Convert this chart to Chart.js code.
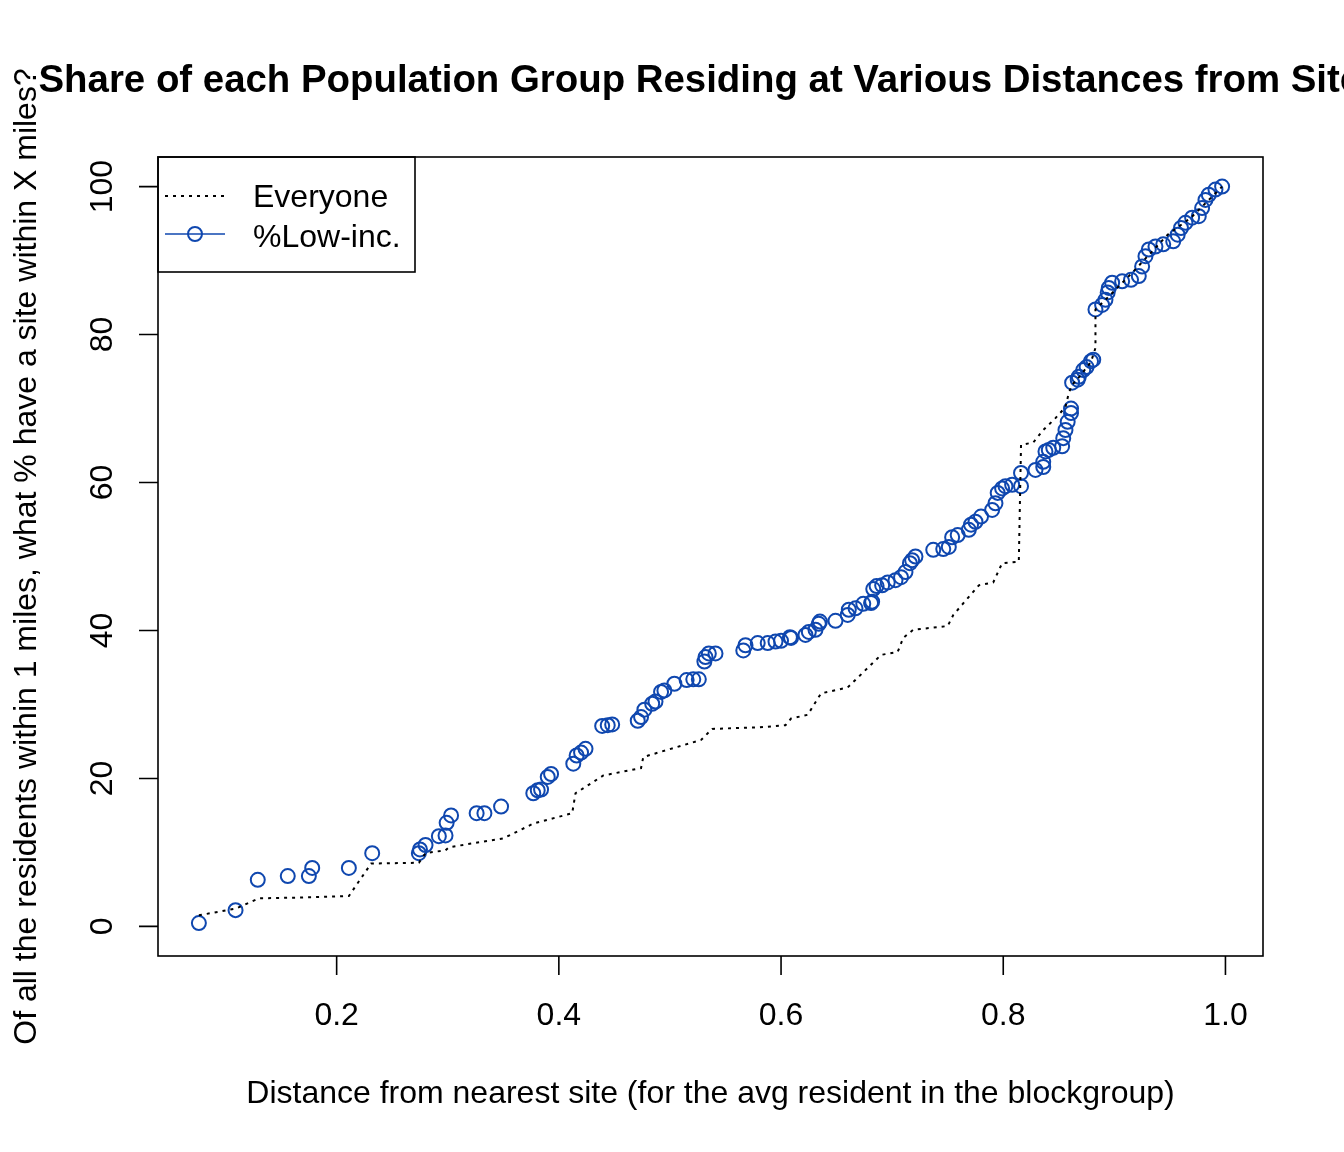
<!DOCTYPE html>
<html>
<head>
<meta charset="utf-8">
<script src="https://cdn.jsdelivr.net/npm/chart.js@4.4.0/dist/chart.umd.min.js"></script>
<style>
  html, body { margin: 0; padding: 0; background: #fff; }
  #wrap { width: 1344px; height: 1152px; }
</style>
</head>
<body>
<div id="wrap"><canvas id="chart" width="1344" height="1152"></canvas></div>
<script>
// data
const everyoneX = [0.076, 0.109, 0.130, 0.168, 0.211, 0.231, 0.274, 0.280, 0.298, 0.301,
  0.350, 0.377, 0.412, 0.415, 0.440, 0.474, 0.476, 0.528, 0.538, 0.580,
  0.604, 0.609, 0.624, 0.636, 0.660, 0.690, 0.705, 0.710, 0.719, 0.750,
  0.755, 0.778, 0.791, 0.799, 0.814, 0.816, 0.827, 0.836, 0.847, 0.856,
  0.859, 0.862, 0.868, 0.879, 0.883, 0.883, 0.892, 0.917, 0.948, 0.969, 0.997];
const everyoneY = [1.5, 2.4, 3.8, 3.9, 4.1, 8.5, 8.6, 9.9, 10.3, 10.7,
  11.9, 13.9, 15.3, 18.0, 20.4, 21.4, 22.9, 25.2, 26.7, 26.9,
  27.2, 28.1, 28.6, 31.5, 32.3, 36.7, 37.1, 39.0, 40.1, 40.6,
  42.1, 46.1, 46.5, 49.1, 49.3, 65.1, 65.4, 67.1, 68.7, 70.2,
  72.1, 73.2, 74.2, 76.3, 78.2, 83.4, 84.7, 88.5, 93.5, 95.8, 100];

const lowIncX = [0.076, 0.109, 0.129, 0.156, 0.175, 0.178, 0.211, 0.232, 0.274, 0.275,
  0.280, 0.292, 0.298, 0.299, 0.303, 0.326, 0.333, 0.348, 0.377, 0.381,
  0.384, 0.390, 0.393, 0.413, 0.416, 0.420, 0.424, 0.439, 0.444, 0.448,
  0.471, 0.474, 0.477, 0.484, 0.487, 0.492, 0.495, 0.504, 0.515, 0.521,
  0.526, 0.531, 0.532, 0.535, 0.541, 0.566, 0.568, 0.579, 0.588, 0.595,
  0.600, 0.608, 0.609, 0.622, 0.625, 0.631, 0.634, 0.635, 0.649, 0.660,
  0.661, 0.667, 0.674, 0.681, 0.682, 0.683, 0.686, 0.691, 0.696, 0.703,
  0.708, 0.712, 0.716, 0.718, 0.721, 0.737, 0.746, 0.751, 0.754, 0.759,
  0.769, 0.771, 0.775, 0.780, 0.790, 0.793, 0.795, 0.799, 0.802, 0.808,
  0.816, 0.816, 0.829, 0.836, 0.836, 0.838, 0.841, 0.845, 0.853, 0.854,
  0.856, 0.858, 0.861, 0.861, 0.862, 0.867, 0.868, 0.872, 0.875, 0.879,
  0.881, 0.883, 0.889, 0.892, 0.894, 0.895, 0.898, 0.907, 0.915, 0.922,
  0.925, 0.928, 0.931, 0.937, 0.944, 0.953, 0.957, 0.960, 0.964, 0.970,
  0.976, 0.979, 0.982, 0.985, 0.991, 0.997];
const lowIncY = [0.45, 2.2, 6.3, 6.8, 6.8, 7.9, 7.9, 9.9, 9.9, 10.4,
  11.0, 12.2, 12.3, 14.0, 15.0, 15.3, 15.3, 16.2, 18.0, 18.4,
  18.5, 20.2, 20.6, 22.0, 23.1, 23.5, 24.0, 27.1, 27.2, 27.3,
  27.8, 28.3, 29.3, 30.1, 30.4, 31.7, 31.9, 32.8, 33.3, 33.4,
  33.4, 35.8, 36.4, 36.9, 36.9, 37.3, 38.0, 38.3, 38.3, 38.5,
  38.6, 39.1, 39.0, 39.4, 39.8, 40.1, 40.9, 41.2, 41.3, 42.1,
  42.8, 43.0, 43.6, 43.7, 43.9, 45.6, 46.0, 46.1, 46.5, 46.8,
  47.2, 47.9, 49.1, 49.5, 50.0, 50.9, 51.0, 51.3, 52.6, 52.9,
  53.6, 54.3, 54.7, 55.4, 56.3, 57.2, 58.6, 59.2, 59.5, 59.7,
  59.5, 61.3, 61.7, 62.1, 62.8, 64.2, 64.4, 64.7, 64.9, 66.0,
  67.1, 68.2, 69.4, 70.0, 73.5, 73.9, 74.3, 75.2, 75.6, 76.4,
  76.6, 83.4, 84.0, 84.7, 85.7, 86.3, 87.0, 87.2, 87.4, 87.9,
  89.2, 90.6, 91.5, 91.9, 92.2, 92.6, 93.5, 94.4, 95.1, 95.8,
  96.0, 97.1, 98.2, 98.9, 99.6, 100.0];

const xTicks = [0.2, 0.4, 0.6, 0.8, 1.0];
const yTicks = [0, 20, 40, 60, 80, 100];

const titleText = 'Share of each Population Group Residing at Various Distances from Sites';
const xLabel = 'Distance from nearest site (for the avg resident in the blockgroup)';
const yLabel = 'Of all the residents within 1 miles, what % have a site within X miles?';

const FONT = '"Liberation Sans", Arial, Helvetica, sans-serif';
const BLUE = '#0F47AF';
const TICK_LEN = 19;

// R-style box, ticks, labels, title and legend
const rFrame = {
  id: 'rFrame',
  afterDraw(chart) {
    const ctx = chart.ctx;
    const a = chart.chartArea;
    const xs = chart.scales.x;
    const ys = chart.scales.y;
    ctx.save();
    ctx.strokeStyle = '#000';
    ctx.fillStyle = '#000';
    ctx.lineWidth = 1.6;
    ctx.strokeRect(a.left, a.top, a.right - a.left, a.bottom - a.top);

    ctx.beginPath();
    xs.ticks.forEach(t => {
      const px = xs.getPixelForValue(t.value);
      ctx.moveTo(px, a.bottom);
      ctx.lineTo(px, a.bottom + TICK_LEN);
    });
    ys.ticks.forEach(t => {
      const py = ys.getPixelForValue(t.value);
      ctx.moveTo(a.left, py);
      ctx.lineTo(a.left - TICK_LEN, py);
    });
    ctx.stroke();

    ctx.font = '32px ' + FONT;
    ctx.textAlign = 'center';
    ctx.textBaseline = 'alphabetic';
    xs.ticks.forEach(t => {
      ctx.fillText(t.value.toFixed(1), xs.getPixelForValue(t.value), 1025);
    });
    ys.ticks.forEach(t => {
      ctx.save();
      ctx.translate(112, ys.getPixelForValue(t.value));
      ctx.rotate(-Math.PI / 2);
      ctx.fillText(String(t.value), 0, 0);
      ctx.restore();
    });

    const cx = (a.left + a.right) / 2;
    const cy = (a.top + a.bottom) / 2;
    ctx.fillText(xLabel, cx, 1103);
    ctx.save();
    ctx.translate(36, cy);
    ctx.rotate(-Math.PI / 2);
    ctx.fillText(yLabel, 0, 0);
    ctx.restore();

    ctx.font = 'bold 38.4px ' + FONT;
    ctx.fillText(titleText, cx, 92);

    // legend
    const ds = chart.data.datasets;
    ctx.lineWidth = 1.6;
    ctx.strokeRect(a.left, a.top, 257, 115);
    ctx.font = '32px ' + FONT;
    ctx.textAlign = 'left';
    ctx.lineWidth = 2;
    ctx.setLineDash(ds[0].borderDash);
    ctx.strokeStyle = ds[0].borderColor;
    ctx.beginPath();
    ctx.moveTo(165, 196);
    ctx.lineTo(225, 196);
    ctx.stroke();
    ctx.setLineDash([]);
    ctx.fillText(ds[0].label, 253, 207);

    ctx.strokeStyle = ds[1].pointBorderColor;
    ctx.lineWidth = 1.6;
    ctx.beginPath();
    ctx.moveTo(165, 234);
    ctx.lineTo(225, 234);
    ctx.stroke();
    ctx.lineWidth = 2;
    ctx.beginPath();
    ctx.arc(195, 234, 7, 0, Math.PI * 2);
    ctx.stroke();
    ctx.fillText(ds[1].label, 253, 247);
    ctx.restore();
  }
};

const ctx = document.getElementById('chart').getContext('2d');
new Chart(ctx, {
  type: 'scatter',
  data: {
    datasets: [{
      label: 'Everyone',
      data: everyoneX.map((x, i) => ({ x: x, y: everyoneY[i] })),
      showLine: true,
      borderColor: '#000',
      borderWidth: 2,
      borderDash: [3, 5],
      pointRadius: 0,
      fill: false,
      tension: 0
    }, {
      label: '%Low-inc.',
      data: lowIncX.map((x, i) => ({ x: x, y: lowIncY[i] })),
      showLine: false,
      pointRadius: 7,
      pointBorderWidth: 2,
      pointBorderColor: BLUE,
      pointBackgroundColor: 'rgba(0,0,0,0)'
    }]
  },
  options: {
    responsive: false,
    animation: false,
    devicePixelRatio: 1,
    layout: { padding: { left: 158, top: 157, right: 81, bottom: 196 } },
    plugins: {
      legend: { display: false },
      title: { display: false },
      tooltip: { enabled: false }
    },
    scales: {
      x: {
        type: 'linear',
        min: 0.0392,
        max: 1.0338,
        grid: { display: false },
        border: { display: false },
        ticks: { display: false },
        afterBuildTicks: s => { s.ticks = xTicks.map(v => ({ value: v })); },
        afterFit: s => { s.height = 0; }
      },
      y: {
        type: 'linear',
        min: -4,
        max: 104,
        grid: { display: false },
        border: { display: false },
        ticks: { display: false },
        afterBuildTicks: s => { s.ticks = yTicks.map(v => ({ value: v })); },
        afterFit: s => { s.width = 0; }
      }
    }
  },
  plugins: [rFrame]
});
</script>
</body>
</html>
